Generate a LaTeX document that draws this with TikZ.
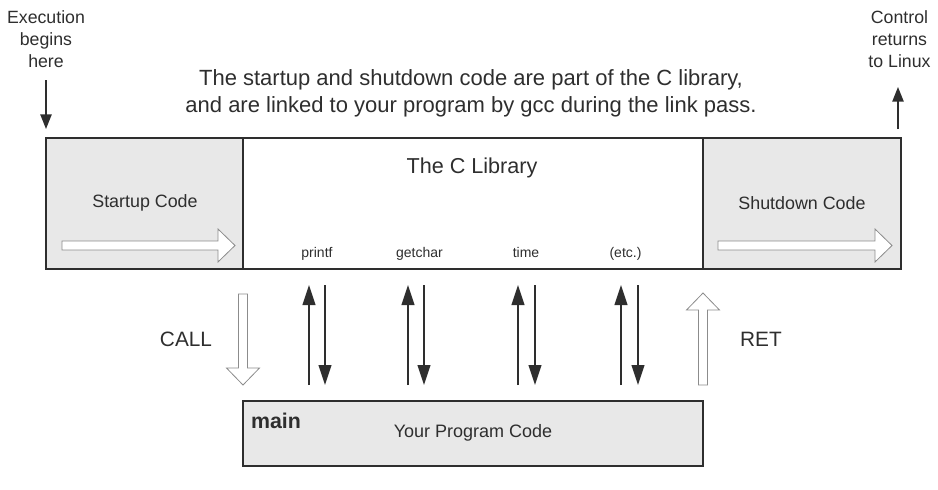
\documentclass[tikz,border=0pt]{standalone}
\usepackage{fontspec}
\setmainfont{Liberation Sans}
\usetikzlibrary{positioning,arrows.meta}
\definecolor{boxgray}{HTML}{E8E8E8}
\definecolor{inkgray}{HTML}{2E2E2E}
\definecolor{hollowgray}{HTML}{8C8C8C}

\tikzset{
  codebox/.style={draw=inkgray, line width=0.9pt, inner sep=0pt, minimum height=98.25pt},
  gray box/.style={codebox, fill=boxgray},
  libcall/.style={-{Triangle[length=15pt,width=9.5pt]}, line width=1.5pt, draw=inkgray},
  flow/.style={-{Triangle[length=11pt,width=8.5pt]}, line width=1.1pt, draw=inkgray},
  funcname/.style={font=\fontsize{10.5}{12}\selectfont, text=inkgray, anchor=base},
  pics/hollowarrow/.style={code={
    \draw[draw=hollowgray, fill=white, line width=0.6pt]
      (0,-4.5) -- (#1-17,-4.5) -- (#1-17,-16.5) -- (#1,0) -- (#1-17,16.5)
      -- (#1-17,4.5) -- (0,4.5) -- cycle;
  }}
}

\begin{document}
\begin{tikzpicture}[x=0.75pt,y=-0.75pt]
			\useasboundingbox (0,0) rectangle (938,489);
			
			% top row of boxes
			\node[gray box, minimum width=147.75pt](startup) at (144.5,203.5) {};
			\node[codebox, minimum width=345pt](library) at (473,203.5) {};
			\node[gray box, minimum width=148.5pt](shutdown) at (802,203.5) {};
			\node[font=\fontsize{13.4}{16}\selectfont, text=inkgray](startuplbl) at (145,203) {Startup Code};
			\node[font=\fontsize{13.4}{16}\selectfont, text=inkgray](shutdownlbl) at (802,203) {Shutdown Code};
			\node[font=\fontsize{16.2}{19}\selectfont, text=inkgray](liblbl) at (472,168) {The C Library};
			
			% library functions
			\node[funcname](printf) at (317,257) {printf};
			\node[funcname](getchar) at (419.5,257) {getchar};
			\node[funcname](time) at (526,257) {time};
			\node[funcname](etc) at (625.5,257) {(etc.)};
			
			% program box
			\node[gray box, minimum width=345pt, minimum height=48.75pt](program) at (473,433.5) {};
			\node[font=\fontsize{13.5}{16}\selectfont, text=inkgray](proglbl) at (473,433) {Your Program Code};
			\node[font=\bfseries\fontsize{16}{19}\selectfont, text=inkgray](mainlbl) at (276,421) {main};
			
			% notes
			\node[align=center, font=\fontsize{16.5}{20.25}\selectfont, text=inkgray](note) at (471,93.5)
				{The startup and shutdown code are part of the C library,\\and are linked to your program by gcc during the link pass.};
			\node[align=center, font=\fontsize{13.3}{16.5}\selectfont, text=inkgray](begins) at (46,39) {Execution\\begins\\here};
			\node[align=center, font=\fontsize{13.3}{16.5}\selectfont, text=inkgray](returns) at (899.5,39) {Control\\returns\\to Linux};
			\node[font=\fontsize{15.6}{19}\selectfont, text=inkgray](call) at (186,339) {CALL};
			\node[font=\fontsize{15.6}{19}\selectfont, text=inkgray](ret) at (761,339) {RET};
			
			% entry and exit
			\coordinate (in0) at (46,80);
			\coordinate (in1) at (46,129);
			\coordinate (out0) at (898,129);
			\coordinate (out1) at (898,87);
			\draw[flow] (in0) -- (in1);
			\draw[flow] (out0) -- (out1);
			
			% hollow arrows
			\pic at (62,245.5) {hollowarrow=173};
			\pic at (718,245.5) {hollowarrow=174};
			\pic[rotate=-90] at (243,294) {hollowarrow=91};
			\pic[rotate=90] at (703,385) {hollowarrow=92};
			
			% calls into the library
			\coordinate (printfup0) at (309,385);
			\coordinate (printfup1) at (309,285);
			\coordinate (printfdn0) at (325,285);
			\coordinate (printfdn1) at (325,385);
			\coordinate (getcharup0) at (408,385);
			\coordinate (getcharup1) at (408,285);
			\coordinate (getchardn0) at (424,285);
			\coordinate (getchardn1) at (424,385);
			\coordinate (timeup0) at (518,385);
			\coordinate (timeup1) at (518,285);
			\coordinate (timedn0) at (535,285);
			\coordinate (timedn1) at (535,385);
			\coordinate (etcup0) at (621,385);
			\coordinate (etcup1) at (621,285);
			\coordinate (etcdn0) at (638,285);
			\coordinate (etcdn1) at (638,385);
			
			\draw[libcall] (printfup0) -- (printfup1);
			\draw[libcall] (printfdn0) -- (printfdn1);
			\draw[libcall] (getcharup0) -- (getcharup1);
			\draw[libcall] (getchardn0) -- (getchardn1);
			\draw[libcall] (timeup0) -- (timeup1);
			\draw[libcall] (timedn0) -- (timedn1);
			\draw[libcall] (etcup0) -- (etcup1);
			\draw[libcall] (etcdn0) -- (etcdn1);
		\end{tikzpicture}
\end{document}
